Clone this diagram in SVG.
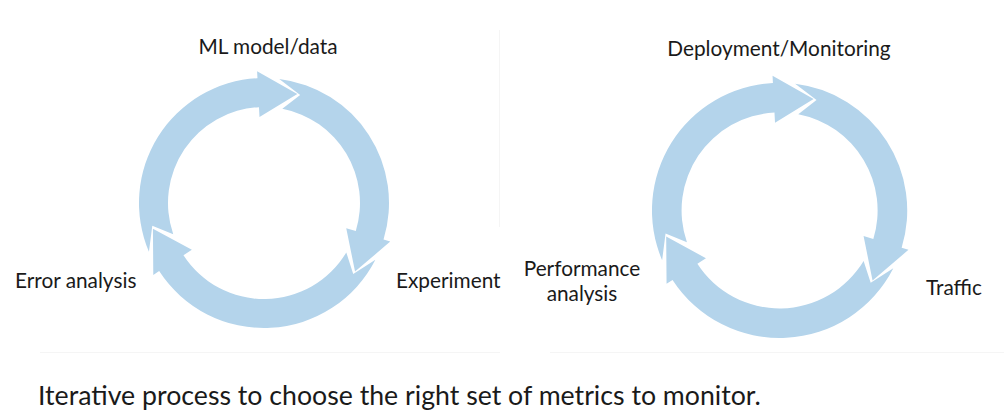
<svg xmlns="http://www.w3.org/2000/svg" width="1004" height="418" viewBox="0 0 1004 418">
  <style>
    .arrow { fill: #b4d4eb; stroke: none; }
    .lbl { font-family: Lato, "Open Sans", "Liberation Sans", sans-serif; font-size: 20.8px; fill: #1a1a1a; }
    .cap { font-family: Lato, "Open Sans", "Liberation Sans", sans-serif; font-size: 26.7px; fill: #1a1a1a; }
    .faint { stroke: #f5f5f5; stroke-width: 1; fill: none; }
  </style>
  <rect x="0" y="0" width="1004" height="418" fill="#ffffff"/>
  <g id="separators">
    <line class="faint" x1="499.5" y1="30" x2="499.5" y2="227"/>
    <line class="faint" x1="40" y1="352.5" x2="500" y2="352.5"/>
    <line class="faint" x1="550" y1="352.5" x2="1004" y2="352.5"/>
  </g>
  <g id="connectors">
    <g id="cycle-left">
      <path id="left-arrow-top" class="arrow" d="M148.94,251.84 A125,125 0 0 1 257.46,78.17 L257.10,71.18 L297.33,93.98 L259.50,117.12 L258.98,107.13 A96,96 0 0 0 173.23,234.26 L152.29,225.73 Z"/>
      <path id="left-arrow-right" class="arrow" d="M279.24,78.94 A125,125 0 0 1 383.54,239.55 L390.23,241.60 L355.04,271.61 L346.24,228.15 L355.80,231.07 A96,96 0 0 0 282.32,108.77 L300.17,94.89 Z"/>
      <path id="left-arrow-bottom" class="arrow" d="M375.38,259.75 A125,125 0 0 1 159.16,271.08 L153.29,274.89 L152.92,228.65 L191.87,249.84 L183.48,255.28 A96,96 0 0 0 346.29,252.44 L353.22,273.97 Z"/>
    </g>
    <g id="cycle-right" transform="translate(779.6,210.4) scale(1.021) translate(-264,-203)">
      <path id="right-arrow-top" class="arrow" d="M148.94,251.84 A125,125 0 0 1 257.46,78.17 L257.10,71.18 L297.33,93.98 L259.50,117.12 L258.98,107.13 A96,96 0 0 0 173.23,234.26 L152.29,225.73 Z"/>
      <path id="right-arrow-right" class="arrow" d="M279.24,78.94 A125,125 0 0 1 383.54,239.55 L390.23,241.60 L355.04,271.61 L346.24,228.15 L355.80,231.07 A96,96 0 0 0 282.32,108.77 L300.17,94.89 Z"/>
      <path id="right-arrow-bottom" class="arrow" d="M375.38,259.75 A125,125 0 0 1 159.16,271.08 L153.29,274.89 L152.92,228.65 L191.87,249.84 L183.48,255.28 A96,96 0 0 0 346.29,252.44 L353.22,273.97 Z"/>
    </g>
  </g>
  <g id="node-ml-model"><text class="lbl" x="268" y="54" text-anchor="middle">ML model/data</text></g>
  <g id="node-experiment"><text class="lbl" x="396" y="288">Experiment</text></g>
  <g id="node-error-analysis"><text class="lbl" x="15" y="288">Error analysis</text></g>
  <g id="node-deployment"><text class="lbl" x="779" y="56" text-anchor="middle">Deployment/Monitoring</text></g>
  <g id="node-traffic"><text class="lbl" x="926" y="295">Traffic</text></g>
  <g id="node-performance"><text class="lbl" x="582" y="276" text-anchor="middle">Performance</text><text class="lbl" x="582" y="301" text-anchor="middle">analysis</text></g>
  <g id="caption"><text class="cap" x="38" y="405">Iterative process to choose the right set of metrics to monitor.</text></g>
</svg>
